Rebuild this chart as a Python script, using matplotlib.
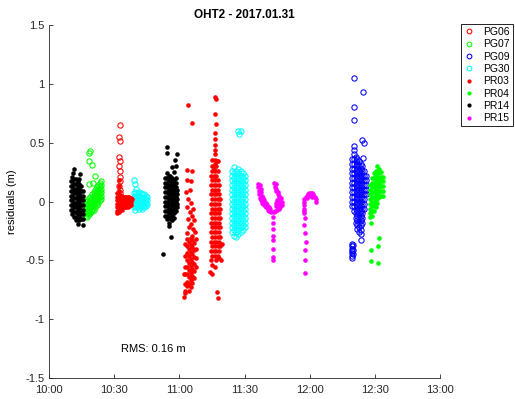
import matplotlib
matplotlib.use("Agg")
import matplotlib.pyplot as plt
from matplotlib.lines import Line2D

plt.rcParams['font.family'] = ['Liberation Sans', 'DejaVu Sans']

# time in minutes after 10:00 -> residual values (m)
PG06 = [(32.5,0.65),(32.3,0.55),(32.6,0.51),(32.4,0.38),(32.5,0.34),(32.3,0.30),(32.6,0.26),
        (32.5,0.21),(32.7,0.17),(32.4,0.13),(32.6,0.10),(32.5,0.07),(32.8,0.04),(33.0,0.02)]

PG07_cols = {17.0: [0.0,-0.03,-0.06,-0.09,-0.12],
             17.7: [0.01,-0.02,-0.05,-0.08,-0.11,-0.13],
             18.4: [0.03,0.0,-0.03,-0.06,-0.09,-0.11],
             19.1: [0.04,0.01,-0.02,-0.05,-0.08,-0.10],
             19.8: [0.06,0.03,0.0,-0.03,-0.06,-0.08],
             20.5: [0.08,0.05,0.02,-0.01,-0.04,-0.07],
             21.2: [0.10,0.07,0.04,0.01,-0.02,-0.05],
             21.9: [0.12,0.09,0.06,0.03,0.0,-0.03],
             22.6: [0.14,0.11,0.08,0.05,0.02,-0.01],
             23.3: [0.16,0.13,0.10,0.07,0.04,0.01],
             23.9: [0.17,0.14,0.11,0.08,0.05,0.02]}
PG07_extra = [(18.9,0.43),(18.6,0.41),(18.4,0.34),(19.8,0.31),(21.2,0.22),(18.4,0.15),(20.3,0.16)]

PG09_cols = {139.5: [0.36,0.32,0.28,0.24,0.20,0.16,0.12,0.08,0.04,0.0,-0.04],
             140.3: [0.40,0.36,0.32,0.28,0.24,0.20,0.16,0.12,0.08,0.04,0.0,-0.04,-0.08],
             141.1: [0.38,0.34,0.30,0.26,0.22,0.18,0.14,0.10,0.06,0.02,-0.02,-0.06,-0.10,-0.14,-0.18],
             141.9: [0.36,0.32,0.28,0.24,0.20,0.16,0.12,0.08,0.04,0.0,-0.04,-0.08,-0.12,-0.16,-0.20,-0.23],
             142.7: [0.34,0.30,0.26,0.22,0.18,0.14,0.10,0.06,0.02,-0.02,-0.06,-0.10,-0.14,-0.18,-0.22,-0.26],
             143.5: [0.32,0.28,0.24,0.20,0.16,0.12,0.08,0.04,0.0,-0.04,-0.08,-0.12,-0.16,-0.20,-0.24,-0.28],
             144.3: [0.30,0.26,0.22,0.18,0.14,0.10,0.06,0.02,-0.02,-0.06,-0.10,-0.14,-0.18],
             145.1: [0.26,0.22,0.18,0.14,0.10,0.06,0.02,-0.02,-0.06],
             145.9: [0.22,0.18,0.14,0.10,0.06]}
PG09_extra = [(140.4,1.05),(144.4,0.93),(140.4,0.80),(140.4,0.69),(144.2,0.52),(144.9,0.50),
              (140.4,0.47),(140.4,0.44),(144.4,0.37),(143.6,-0.33),
              (139.6,-0.36),(139.6,-0.38),(139.6,-0.40),(139.6,-0.42),(139.6,-0.44),(139.6,-0.46),(139.6,-0.48),
              (140.0,-0.37),(140.0,-0.41),(140.0,-0.45)]

PG30_cols = {39.0: [0.07,0.04,0.01,-0.02,-0.05],
             39.8: [0.08,0.05,0.02,-0.01,-0.04,-0.07],
             40.6: [0.07,0.04,0.01,-0.02,-0.05],
             41.4: [0.08,0.05,0.02,-0.01,-0.04,-0.06],
             42.2: [0.07,0.04,0.01,-0.02,-0.05],
             43.0: [0.06,0.03,0.0,-0.03,-0.06],
             43.8: [0.06,0.03,0.0,-0.03,-0.05],
             44.6: [0.05,0.02,-0.01,-0.04],
             45.2: [0.04,0.01,-0.02],
             84.2: [0.26,0.22,0.18,0.14,0.10,0.06,0.02,-0.02,-0.06,-0.10,-0.14,-0.18,-0.22,-0.26],
             85.2: [0.29,0.24,0.20,0.16,0.12,0.08,0.04,0.0,-0.04,-0.08,-0.12,-0.16,-0.20,-0.24,-0.29],
             86.2: [0.26,0.22,0.18,0.14,0.10,0.06,0.02,-0.02,-0.06,-0.10,-0.14,-0.18,-0.22,-0.26,-0.30],
             87.2: [0.28,0.24,0.20,0.16,0.12,0.08,0.04,0.0,-0.04,-0.08,-0.12,-0.16,-0.20,-0.24,-0.28],
             88.2: [0.26,0.22,0.18,0.14,0.10,0.06,0.02,-0.02,-0.06,-0.10,-0.14,-0.18,-0.22,-0.26],
             89.2: [0.24,0.20,0.16,0.12,0.08,0.04,0.0,-0.04,-0.08,-0.12,-0.16,-0.20,-0.24],
             90.2: [0.22,0.18,0.14,0.10,0.06,0.02,-0.02,-0.06,-0.10,-0.14,-0.18,-0.22]}
PG30_extra = [(39.3,0.18),(39.5,0.15),(39.9,0.11),(87.0,0.60),(88.3,0.60),(87.6,0.57)]

PR03_cols = {31.4: [0.07,0.04,0.01,-0.02,-0.05,-0.08,-0.10],
             32.1: [0.06,0.03,0.0,-0.03,-0.06,-0.09],
             32.8: [0.05,0.02,-0.01,-0.04,-0.07],
             33.5: [0.05,0.02,-0.01,-0.04,-0.07],
             34.2: [0.04,0.01,-0.02,-0.05],
             34.9: [0.04,0.01,-0.02,-0.05],
             35.6: [0.04,0.01,-0.02,-0.05],
             36.3: [0.04,0.01,-0.02,-0.05],
             37.0: [0.04,0.01,-0.02,-0.04],
             37.7: [0.03,0.0,-0.03],
             62.8: [-0.36,-0.46,-0.56,-0.62,-0.70,-0.76],
             63.6: [-0.32,-0.38,-0.44,-0.50,-0.56,-0.62,-0.68,-0.72],
             64.4: [-0.34,-0.40,-0.46,-0.52,-0.58,-0.64,-0.70,-0.76],
             65.2: [-0.31,-0.37,-0.43,-0.49,-0.55,-0.61,-0.67,-0.73],
             66.0: [-0.33,-0.39,-0.45,-0.51,-0.57,-0.63,-0.69],
             66.8: [-0.35,-0.41,-0.47,-0.53,-0.59,-0.65],
             67.6: [-0.32,-0.40,-0.48,-0.56],
             74.6: [0.22,0.14,0.06,-0.02,-0.10,-0.18,-0.26,-0.34,-0.42,-0.50],
             75.2: [0.30,0.26,0.18,0.10,0.02,-0.06,-0.14,-0.22,-0.30,-0.38,-0.46,-0.54],
             75.8: [0.28,0.22,0.14,0.06,-0.02,-0.10,-0.18,-0.26,-0.34,-0.42],
             76.4: [0.32,0.26,0.18,0.10,0.02,-0.06,-0.14,-0.22,-0.30,-0.38,-0.46,-0.56],
             77.0: [0.30,0.22,0.14,0.06,-0.02,-0.10,-0.18,-0.26,-0.34,-0.42,-0.50],
             77.6: [0.26,0.18,0.10,0.02,-0.06,-0.14,-0.22,-0.30,-0.38,-0.46],
             78.2: [0.14,0.06,-0.02,-0.10,-0.18,-0.26,-0.34,-0.42,-0.48],
             78.8: [0.02,-0.06,-0.14,-0.22,-0.30,-0.38]}
PR03_extra = [(32.3,0.18),(32.4,0.13),(32.3,0.09),(38.3,0.02),
              (64.0,0.82),(65.8,0.67),(63.4,0.27),(66.0,0.26),(63.4,0.18),(65.5,0.17),(64.8,0.10),(63.0,0.08),
              (64.2,0.02),(65.6,-0.01),(63.6,-0.05),(66.4,-0.06),(64.9,-0.09),(65.8,-0.12),(63.9,-0.15),
              (66.9,-0.16),(65.2,-0.19),(64.4,-0.22),(66.3,-0.23),(67.3,-0.26),(63.5,-0.27),(65.7,-0.29),
              (62.3,-0.81),(62.6,-0.78),(62.1,-0.62),
              (76.6,0.89),(76.9,0.87),(76.5,0.74),(76.7,0.66),(76.5,0.58),(76.6,0.53),(76.4,0.48),
              (76.6,0.44),(76.5,0.40),(75.2,0.35),(76.2,0.35),(77.2,0.34),(78.0,0.34),
              (74.0,-0.60),(75.0,-0.62),(79.5,-0.36),(79.2,-0.50),(77.5,-0.77),(77.6,-0.82)]

PR04_cols = {148.0: [0.14,0.10,0.06,0.02,-0.02,-0.06,-0.10,-0.13],
             148.8: [0.20,0.16,0.12,0.08,0.04,0.0,-0.04,-0.08,-0.12],
             149.6: [0.24,0.20,0.16,0.12,0.08,0.04,0.0,-0.04,-0.08],
             150.4: [0.26,0.22,0.18,0.14,0.10,0.06,0.02,-0.02,-0.05],
             151.2: [0.30,0.26,0.22,0.18,0.14,0.10,0.06,0.02,-0.01],
             152.0: [0.28,0.24,0.20,0.16,0.12,0.08,0.04],
             152.8: [0.25,0.21,0.17,0.13,0.09,0.05],
             153.6: [0.21,0.17,0.13,0.09,0.05]}
PR04_extra = [(148.2,-0.185),(151.9,-0.31),(151.6,-0.375),(148.1,-0.41),(148.1,-0.505),(151.5,-0.52)]

PR14_cols = {10.0: [0.17,0.13,0.09,0.05,0.01,-0.03,-0.07],
             10.8: [0.21,0.17,0.13,0.09,0.05,0.01,-0.03,-0.07,-0.11],
             11.6: [0.19,0.15,0.11,0.07,0.03,-0.01,-0.05,-0.09,-0.13],
             12.4: [0.19,0.15,0.11,0.07,0.03,-0.01,-0.05,-0.09,-0.13,-0.16],
             13.2: [0.17,0.13,0.09,0.05,0.01,-0.03,-0.07,-0.11,-0.15,-0.19],
             14.0: [0.15,0.11,0.07,0.03,-0.01,-0.05,-0.09,-0.13,-0.16],
             14.8: [0.13,0.09,0.05,0.01,-0.03,-0.07,-0.11,-0.15],
             15.6: [0.09,0.05,0.01,-0.03,-0.07,-0.11,-0.15,-0.20],
             53.5: [0.20,0.16,0.12,0.08,0.04,0.0,-0.04,-0.08,-0.12],
             54.3: [0.24,0.20,0.16,0.12,0.08,0.04,0.0,-0.04,-0.08,-0.12,-0.15],
             55.1: [0.22,0.18,0.14,0.10,0.06,0.02,-0.02,-0.06,-0.10,-0.14,-0.18],
             55.9: [0.22,0.18,0.14,0.10,0.06,0.02,-0.02,-0.06,-0.10,-0.14],
             56.7: [0.20,0.16,0.12,0.08,0.04,0.0,-0.04,-0.08,-0.12,-0.16],
             57.5: [0.18,0.14,0.10,0.06,0.02,-0.02,-0.06,-0.10,-0.14],
             58.3: [0.20,0.16,0.12,0.08,0.04,0.0,-0.04,-0.08],
             59.1: [0.10,0.06,0.02,-0.02,-0.05]}
PR14_extra = [(11.5,0.28),(10.9,0.24),(14.3,0.23),(13.9,0.19),
              (54.3,0.46),(54.5,0.41),(58.9,0.40),(57.8,0.35),(58.5,0.30),(56.6,0.29),(57.6,0.25),
              (55.3,-0.21),(56.2,-0.30),(52.6,-0.45)]

PR15 = [(96.2,0.15),(96.4,0.12),(96.5,0.09),(96.7,0.06),(97.0,0.03),(97.4,0.01),(98.0,-0.01),(98.7,-0.02),
        (99.4,-0.04),(100.1,-0.05),(100.8,-0.07),(101.5,-0.08),(102.1,-0.09),
        (97.2,0.14),(97.4,0.11),(97.6,0.08),(97.9,0.05),(98.4,0.03),(99.0,0.01),(99.7,-0.01),
        (100.4,-0.03),(101.1,-0.05),(101.8,-0.06),
        (103.6,0.16),(104.3,0.15),(104.0,0.12),(104.7,0.11),(104.6,0.09),(105.3,0.08),(105.3,0.06),
        (106.0,0.05),(106.0,0.03),(106.7,0.03),(106.5,0.0),(107.2,0.0),(106.9,-0.03),(107.4,-0.03),
        (106.5,-0.05),(105.7,-0.06),(104.9,-0.07),(104.1,-0.08),(103.4,-0.09),(104.6,-0.04),
        (105.4,-0.02),(105.9,0.0),(105.0,0.01),(104.4,-0.01),
        (103.1,-0.13),(103.1,-0.18),(103.1,-0.23),(103.2,-0.29),(103.2,-0.33),(103.2,-0.40),(103.1,-0.47),(103.2,-0.50),
        (117.4,0.0),(117.6,0.02),(118.1,0.035),(118.7,0.05),(119.3,0.06),(119.9,0.07),(120.5,0.075),
        (121.1,0.07),(121.7,0.06),(122.3,0.04),(122.7,0.02),(122.9,0.0),(119.0,0.03),(120.2,0.045),
        (121.3,0.04),(117.3,-0.03),(117.2,-0.06),(117.5,-0.08),
        (117.4,-0.10),(117.9,-0.14),(117.5,-0.20),(117.9,-0.27),(118.2,-0.34),(117.9,-0.41),
        (117.7,-0.50),(117.7,-0.61)]


def flatten(cols, extra):
    return [(t, v) for t, vs in cols.items() for v in vs] + list(extra)


series = [
    ("PG06", PG06, (1, 0, 0), False),
    ("PG07", flatten(PG07_cols, PG07_extra), (0, 1, 0), False),
    ("PG09", flatten(PG09_cols, PG09_extra), (0, 0, 1), False),
    ("PG30", flatten(PG30_cols, PG30_extra), (0, 1, 1), False),
    ("PR03", flatten(PR03_cols, PR03_extra), (1, 0, 0), True),
    ("PR04", flatten(PR04_cols, PR04_extra), (0, 1, 0), True),
    ("PR14", flatten(PR14_cols, PR14_extra), (0, 0, 0), True),
    ("PR15", PR15, (1, 0, 1), True),
]

xticks = [0, 30, 60, 90, 120, 150, 180]
xticklabels = ["10:00", "10:30", "11:00", "11:30", "12:00", "12:30", "13:00"]
yticks = [-1.5, -1, -0.5, 0, 0.5, 1, 1.5]
yticklabels = ["-1.5", "-1", "-0.5", "0", "0.5", "1", "1.5"]

fig = plt.figure(figsize=(5.15, 3.99), dpi=100)
ax = fig.add_axes([49/515, 21/399, 391/515, 353/399])

handles = []
for name, pts, col, filled in series:
    t = [p[0] for p in pts]
    v = [p[1] for p in pts]
    if filled:
        ax.plot(t, v, linestyle='none', marker='o', ms=3.3, mfc=col, mec=col, mew=0.0)
        h = Line2D([], [], linestyle='none', marker='o', ms=3.0, mfc=col, mec=col, mew=0.0)
    else:
        ax.plot(t, v, linestyle='none', marker='o', ms=3.8, mfc='none', mec=col, mew=0.75)
        h = Line2D([], [], linestyle='none', marker='o', ms=3.4, mfc='none', mec=col, mew=0.75)
    handles.append((h, name))

ax.set_xlim(0, 180)
ax.set_ylim(-1.5, 1.5)
ax.set_xticks(xticks)
ax.set_xticklabels(xticklabels)
ax.set_yticks(yticks)
ax.set_yticklabels(yticklabels)
ax.tick_params(direction='in', length=3, width=0.6, labelsize=8, colors='#262626')
ax.tick_params(axis='x', pad=5)
ax.tick_params(axis='y', pad=3)
for s in ['top', 'right']:
    ax.spines[s].set_visible(False)
for s in ['left', 'bottom']:
    ax.spines[s].set_color('#262626')
    ax.spines[s].set_linewidth(0.6)

ax.set_title("OHT2 - 2017.01.31", fontsize=8.5, fontweight='bold', pad=5)
ax.set_ylabel("residuals (m)", fontsize=8, labelpad=6)
ax.text(33.0, -1.255, "RMS: 0.16 m", fontsize=8, va='center', ha='left')

leg = fig.legend([h for h, _ in handles], [n for _, n in handles],
                 loc='upper left', bbox_to_anchor=(461/515, 1 - 24/399),
                 fontsize=7.5, frameon=True, fancybox=False, edgecolor='black',
                 borderpad=0.3, handlelength=1.0, handletextpad=0.8, labelspacing=0.22,
                 borderaxespad=0, framealpha=1)
leg.get_frame().set_linewidth(0.6)

fig.savefig("out.png", dpi=100)
